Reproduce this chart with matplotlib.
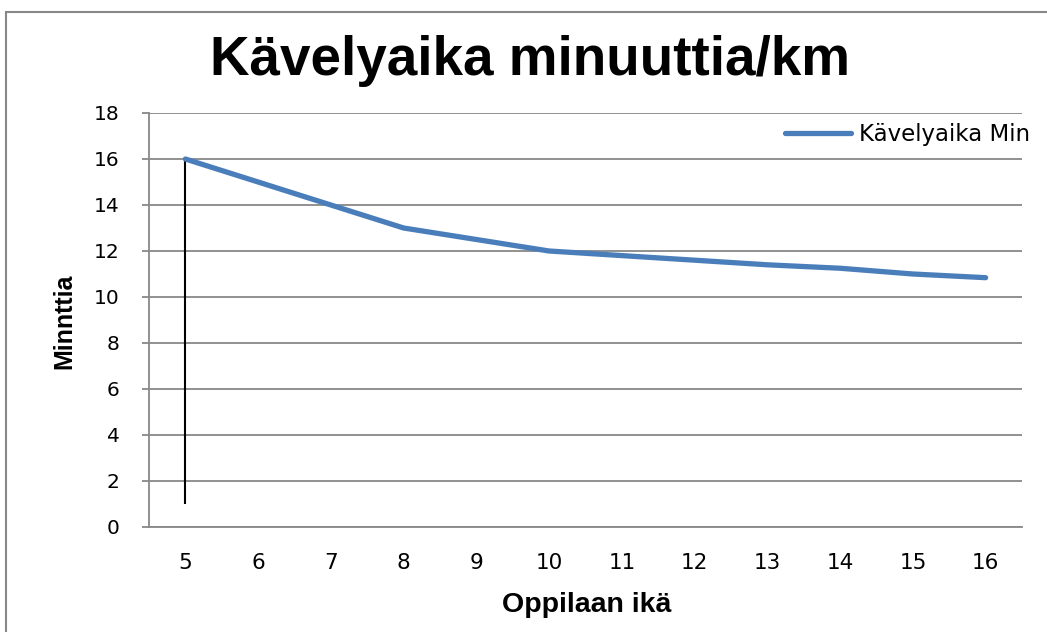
import matplotlib
matplotlib.use("Agg")
import matplotlib.pyplot as plt
from matplotlib.patches import Rectangle

# data
ages = [5, 6, 7, 8, 9, 10, 11, 12, 13, 14, 15, 16]
minutes = [16, 15, 14, 13, 12.5, 12, 11.8, 11.6, 11.4, 11.25, 11.0, 10.84]
drop_x = 5
drop_bottom = 1.0
drop_top = 16
y_ticks = [0, 2, 4, 6, 8, 10, 12, 14, 16, 18]

title = "Kävelyaika minuuttia/km"
series_name = "Kävelyaika Min"
x_label = "Oppilaan ikä"
y_label = "Minnttia"

W, H = 1047, 632
blue = "#4a7ebb"
grey = "#888888"

fig = plt.figure(figsize=(W / 100, H / 100), dpi=100)
fig.patch.set_facecolor("white")

# outer chart frame (cut off at right and bottom)
fig.patches.append(Rectangle((6 / W, -0.2), 2.0, 1.2 - 12 / H, transform=fig.transFigure,
                             fill=False, edgecolor=grey, linewidth=1.5))

ax = fig.add_axes([149 / W, 1 - 527 / H, (1022 - 149) / W, (527 - 113) / H])

ax.vlines(drop_x, drop_bottom, drop_top, color="black", linewidth=1.5, zorder=2)
line, = ax.plot(ages, minutes, color=blue, linewidth=3.8, solid_capstyle="round",
                solid_joinstyle="round", zorder=3, label=series_name)

ax.set_xlim(ages[0] - 0.5, ages[-1] + 0.5)
ax.set_ylim(0, 18)
ax.set_xticks(ages)
ax.set_xticklabels([str(a) for a in ages], fontsize=15.5, family="DejaVu Sans")
ax.set_yticks(y_ticks)
ax.set_yticklabels([str(v) for v in y_ticks], fontsize=14.5, family="DejaVu Sans")
ax.tick_params(axis="x", length=0, pad=19)
ax.tick_params(axis="y", length=5, width=1.3, color=grey, pad=16)

ax.grid(axis="y", color=grey, linewidth=1.3)
ax.set_axisbelow(True)
for side in ("top", "right"):
    ax.spines[side].set_visible(False)
for side in ("left", "bottom"):
    ax.spines[side].set_color(grey)
    ax.spines[side].set_linewidth(1.3)

fig.text(530 / W, 1 - 75 / H, title, ha="center", va="baseline",
         fontsize=39.5, fontweight="bold", family="Liberation Sans")
fig.text(587 / W, 1 - 612 / H, x_label, ha="center", va="baseline",
         fontsize=20.5, fontweight="bold", family="Liberation Sans")
fig.text(64 / W, 1 - 321 / H, y_label, ha="center", va="center", rotation=90,
         fontsize=18, fontweight="bold", family="Liberation Sans")

fig.legend(handles=[line], loc="center left", bbox_to_anchor=(785 / W, 1 - 135 / H),
           frameon=False, borderpad=0, borderaxespad=0, handlelength=2.9,
           handletextpad=0.35, prop={"family": "DejaVu Sans", "size": 16.5})

fig.savefig("out.png", dpi=100)
plt.close(fig)
